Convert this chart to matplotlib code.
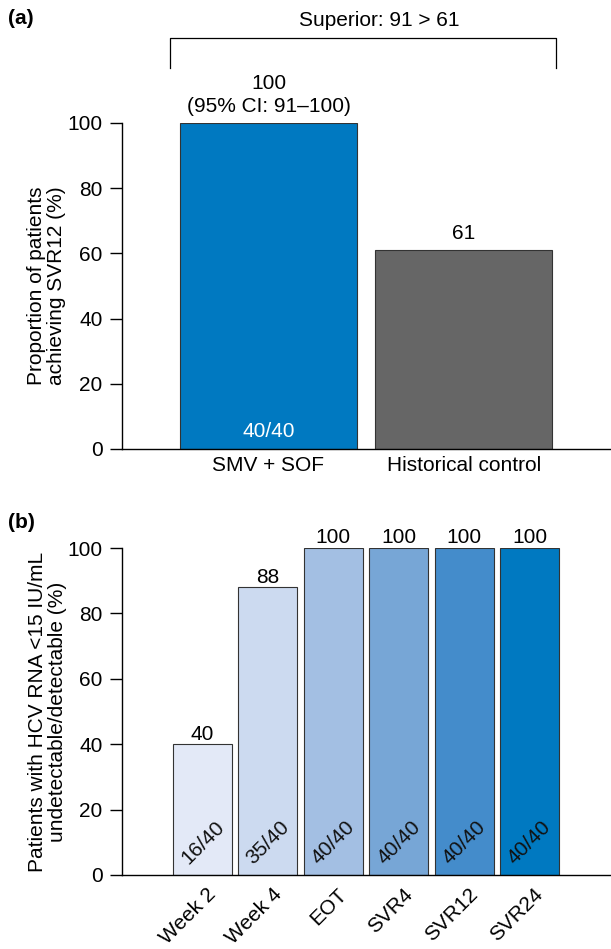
import matplotlib
matplotlib.use("Agg")
import matplotlib.pyplot as plt
from matplotlib.transforms import ScaledTranslation

plt.rcParams['font.family'] = ['Liberation Sans', 'DejaVu Sans']

# Panel (a) data
a_categories = ["SMV + SOF", "Historical control"]
a_values = [100, 61]
a_colors = ["#0079C1", "#666666"]
a_top_labels = ["100\n(95% CI: 91\u2013100)", "61"]
a_inner_labels = ["40/40", ""]
a_ticks = [0, 20, 40, 60, 80, 100]

# Panel (b) data
b_categories = ["Week 2", "Week 4", "EOT", "SVR4", "SVR12", "SVR24"]
b_values = [40, 88, 100, 100, 100, 100]
b_inner_labels = ["16/40", "35/40", "40/40", "40/40", "40/40", "40/40"]
b_colors = ["#E3E9F7", "#CCDAF0", "#A3BFE3", "#77A6D6", "#448CCB", "#0079C1"]
b_ticks = [0, 20, 40, 60, 80, 100]

W, H = 611, 949
fig = plt.figure(figsize=(W / 100, H / 100), dpi=100)

def ax_rect(left, right, top, bottom):
    return [left / W, 1 - bottom / H, (right - left) / W, (bottom - top) / H]

FS = 15
edge = "#333333"

# ---------- Panel (a) ----------
axa = fig.add_axes(ax_rect(122, 611, 123, 449))
xa = list(range(len(a_categories)))
axa.bar(xa, a_values, width=0.905, color=a_colors, edgecolor=edge, linewidth=0.8)
axa.set_xlim(-0.749, 1.752)
axa.set_ylim(0, 100)
axa.set_yticks(a_ticks)
axa.set_xticks(xa)
axa.set_xticklabels(a_categories, fontsize=FS)
axa.tick_params(axis='y', labelsize=FS, length=9, width=1, pad=5)
axa.tick_params(axis='x', length=0, pad=5)
for s in ["top", "right"]:
    axa.spines[s].set_visible(False)
axa.spines["left"].set_linewidth(1)
axa.spines["bottom"].set_linewidth(1)
axa.set_ylabel("Proportion of patients\nachieving SVR12 (%)", fontsize=FS, labelpad=1, linespacing=1.1)
for x, v, t in zip(xa, a_values, a_top_labels):
    axa.annotate(t, (x, v), xytext=(0, 5), textcoords="offset points",
                 ha="center", va="bottom", fontsize=FS, linespacing=1.25, annotation_clip=False)
for x, t in zip(xa, a_inner_labels):
    if t:
        axa.text(x, 2.5, t, ha="center", va="bottom", fontsize=FS, color="white")

# bracket
bx0, bx1 = 170 / W, 556 / W
by_top, by_bot = 1 - 38 / H, 1 - 68 / H
fig.add_artist(plt.Line2D([bx0, bx0, bx1, bx1], [by_bot, by_top, by_top, by_bot],
                          color="black", linewidth=0.9, transform=fig.transFigure))
fig.text(379 / W, 1 - 21 / H, "Superior: 91 > 61", ha="center", va="center", fontsize=FS)
fig.text(8 / W, 1 - 18 / H, "(a)", ha="left", va="center", fontsize=FS, fontweight="bold")

# ---------- Panel (b) ----------
axb = fig.add_axes(ax_rect(122, 611, 548, 875))
xb = list(range(len(b_categories)))
axb.bar(xb, b_values, width=0.9, color=b_colors, edgecolor=edge, linewidth=0.8)
axb.set_xlim(-1.231, 6.246)
axb.set_ylim(0, 100)
axb.set_yticks(b_ticks)
axb.set_xticks(xb)
axb.set_xticklabels(b_categories, fontsize=FS, rotation=45, ha="right",
                    rotation_mode="anchor")
axb.tick_params(axis='y', labelsize=FS, length=9, width=1, pad=5)
axb.tick_params(axis='x', length=0, pad=7)
shift = ScaledTranslation(4 / 100, 0, fig.dpi_scale_trans)
for lab in axb.get_xticklabels():
    lab.set_transform(lab.get_transform() + shift)
for s in ["top", "right"]:
    axb.spines[s].set_visible(False)
axb.spines["left"].set_linewidth(1)
axb.spines["bottom"].set_linewidth(1)
axb.set_ylabel("Patients with HCV RNA <15 IU/mL\nundetectable/detectable (%)", fontsize=FS,
               labelpad=0, linespacing=1.1)
for x, v in zip(xb, b_values):
    axb.annotate(f"{v}", (x, v), xytext=(0, 0.5), textcoords="offset points",
                 ha="center", va="bottom", fontsize=FS, annotation_clip=False)
for x, t in zip(xb, b_inner_labels):
    axb.text(x, 9.8, t, ha="center", va="center", fontsize=FS, rotation=45, color="#111111")
fig.text(8 / W, 1 - 523 / H, "(b)", ha="left", va="center", fontsize=FS, fontweight="bold")

fig.savefig("out.png", dpi=100)
